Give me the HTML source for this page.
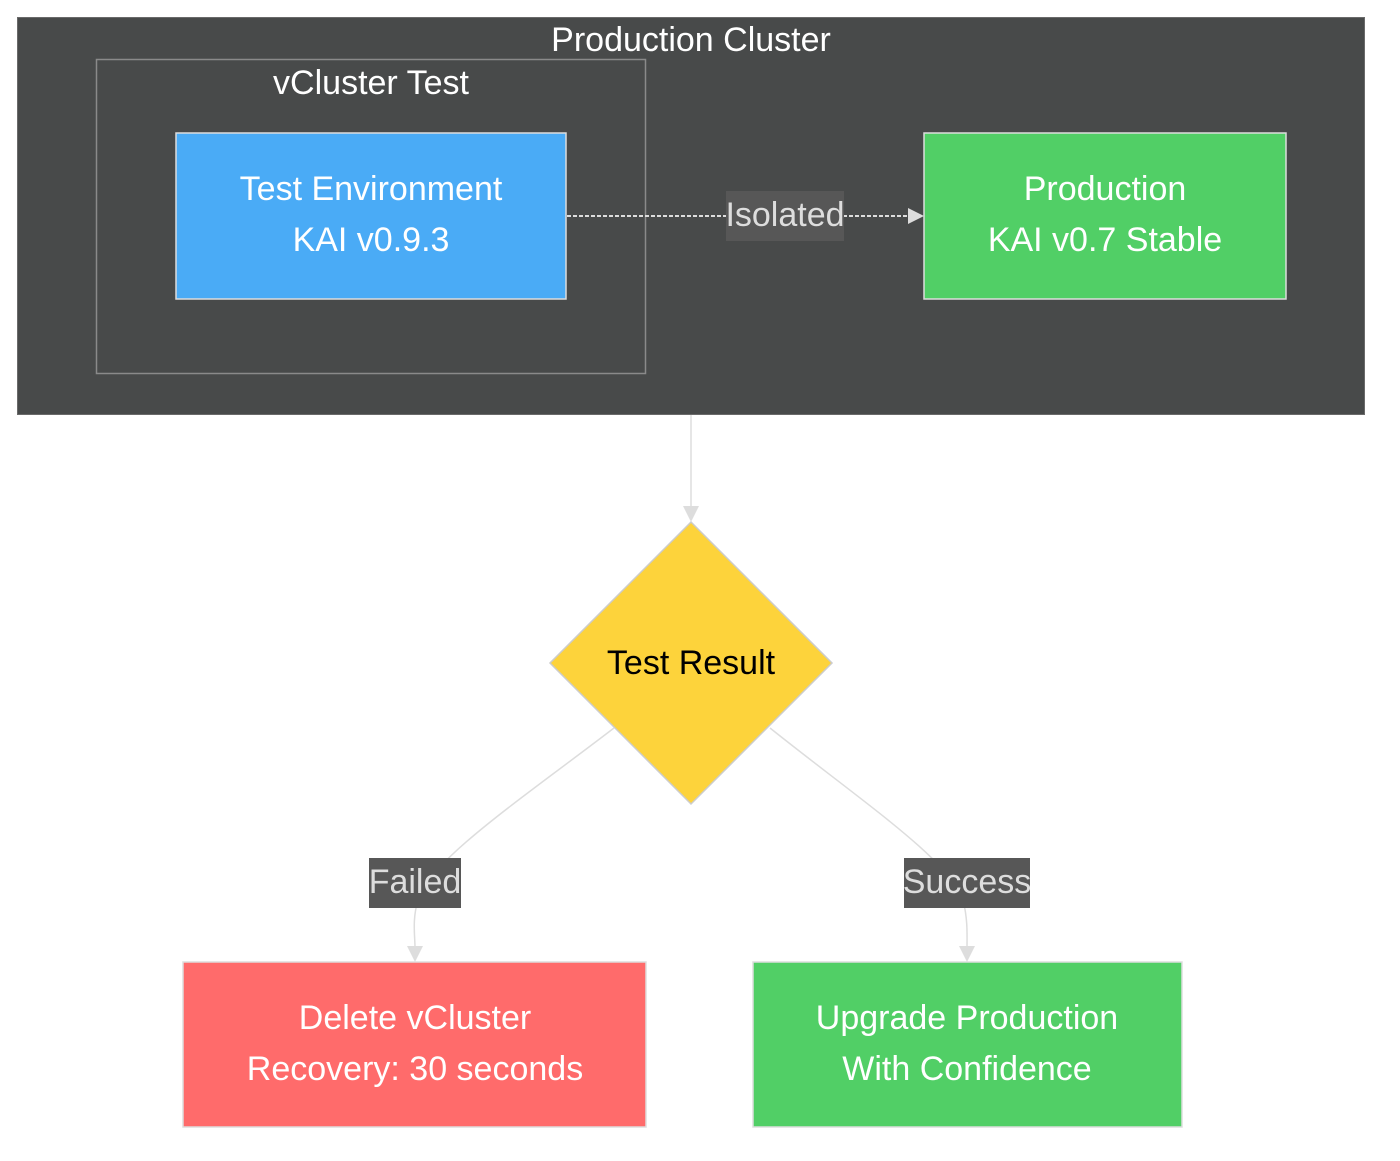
<!DOCTYPE html>
<html><head><meta charset="utf-8"><style>html,body{margin:0;padding:0;background:#fff;}svg{display:block}</style></head>
<body>
<svg width="1400" height="1161" viewBox="0 0 1400 1161" xmlns="http://www.w3.org/2000/svg" font-family="Liberation Sans, sans-serif">
<rect x="0" y="0" width="1400" height="1161" fill="#fff"/>
<rect x="17.5" y="17.5" width="1347" height="397" fill="#484a4a" stroke="#6a6a6a"/>
<text x="691" y="51" font-size="34" fill="#fff" text-anchor="middle">Production Cluster</text>
<rect x="96.5" y="59.5" width="549" height="314" fill="none" stroke="#8a8a8a" stroke-width="1.5"/>
<text x="371" y="94" font-size="34" fill="#fff" text-anchor="middle">vCluster Test</text>
<rect x="176" y="133" width="390" height="166" fill="#4aabf6" stroke="#ddd" stroke-width="1.5"/>
<text x="371" y="200" font-size="34" fill="#fff" text-anchor="middle">Test Environment</text>
<text x="371" y="251" font-size="34" fill="#fff" text-anchor="middle">KAI v0.9.3</text>
<rect x="924" y="133" width="362" height="166" fill="#51cf66" stroke="#ddd" stroke-width="1.5"/>
<text x="1105" y="200" font-size="34" fill="#fff" text-anchor="middle">Production</text>
<text x="1105" y="251" font-size="34" fill="#fff" text-anchor="middle">KAI v0.7 Stable</text>
<line x1="567" y1="216" x2="910" y2="216" stroke="#ddd" stroke-width="2" stroke-dasharray="4,2"/>
<polygon points="908,208 924,216 908,224" fill="#ddd"/>
<rect x="726" y="191" width="118" height="50" fill="#575757"/>
<text x="785" y="226" font-size="34" fill="#ddd" text-anchor="middle">Isolated</text>
<line x1="691" y1="415" x2="691" y2="508" stroke="#ddd" stroke-width="1.5"/>
<polygon points="683,506 691,522 699,506" fill="#ddd"/>
<polygon points="691,522 832,663 691,804 550,663" fill="#fdd33b" stroke="#ccc" stroke-width="1.5"/>
<text x="691" y="674" font-size="34" fill="#000" text-anchor="middle">Test Result</text>
<path d="M614,728 C520,800 430,860 418,900 C412,920 415,935 415,948" fill="none" stroke="#ddd" stroke-width="1.5"/>
<polygon points="407,946 415,962 423,946" fill="#ddd"/>
<path d="M770,728 C860,800 950,860 963,900 C968,920 967,935 967,948" fill="none" stroke="#ddd" stroke-width="1.5"/>
<polygon points="959,946 967,962 975,946" fill="#ddd"/>
<rect x="369" y="858" width="92" height="50" fill="#575757"/>
<text x="415" y="893" font-size="34" fill="#ddd" text-anchor="middle">Failed</text>
<rect x="904" y="858" width="126" height="50" fill="#575757"/>
<text x="967" y="893" font-size="34" fill="#ddd" text-anchor="middle">Success</text>
<rect x="183" y="962" width="463" height="165" fill="#ff6b6b" stroke="#ddd" stroke-width="1.5"/>
<text x="415" y="1029" font-size="34" fill="#fff" text-anchor="middle">Delete vCluster</text>
<text x="415" y="1080" font-size="34" fill="#fff" text-anchor="middle">Recovery: 30 seconds</text>
<rect x="753" y="962" width="429" height="165" fill="#51cf66" stroke="#ddd" stroke-width="1.5"/>
<text x="967" y="1029" font-size="34" fill="#fff" text-anchor="middle">Upgrade Production</text>
<text x="967" y="1080" font-size="34" fill="#fff" text-anchor="middle">With Confidence</text>
</svg>
</body></html>
